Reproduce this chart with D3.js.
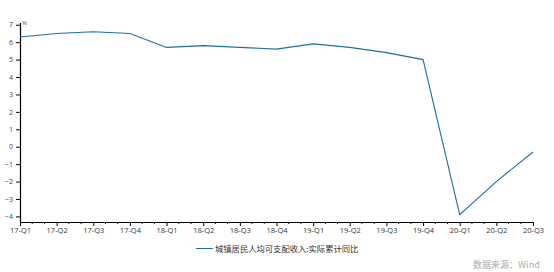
<!DOCTYPE html>
<html><head><meta charset="utf-8">
<script src="https://cdn.jsdelivr.net/npm/d3@7"></script>
<style>
html,body{margin:0;padding:0;background:#fff;}
svg{display:block;}
</style></head>
<body><svg id="c" width="554" height="272"></svg>
<script>
const categories = ["17-Q1","17-Q2","17-Q3","17-Q4","18-Q1","18-Q2","18-Q3","18-Q4","19-Q1","19-Q2","19-Q3","19-Q4","20-Q1","20-Q2","20-Q3"];
const values = [6.3,6.5,6.6,6.5,5.7,5.8,5.7,5.6,5.9,5.7,5.4,5.0,-3.9,-2.0,-0.3];
const yTicks = [-4,-3,-2,-1,0,1,2,3,4,5,6,7];
const seriesName = "城镇居民人均可支配收入:实际累计同比";
const unitLabel = "%";
const sourceText = "数据来源：Wind";

(function(){
const svg = d3.select("#c");
const mLeft = 20, mRight = 533, mTop = 23, mBottom = 222;
const x = d3.scalePoint().domain(categories).range([mLeft, mRight]);
const y = d3.scaleLinear().domain([-4.32, 7.1]).range([mBottom, mTop]);
const axisFont = "'Open Sans','DejaVu Sans',sans-serif";
const cjkFont = "'Noto Sans CJK SC','Noto Sans',sans-serif";

// y axis
const ya = svg.append("g").attr("transform", `translate(${mLeft},0)`)
  .call(d3.axisLeft(y).tickValues(yTicks).tickSize(4).tickPadding(3).tickFormat(d3.format("d")));
ya.select(".domain").attr("stroke", "#000").attr("stroke-width", 1.2).attr("d", `M0.5,${mTop}V${mBottom}`);
ya.selectAll(".tick line").attr("stroke", "#000");
ya.selectAll(".tick text").attr("font-family", axisFont).attr("font-size", 7).attr("fill", "#444");

// x axis
const xa = svg.append("g").attr("transform", `translate(0,${mBottom})`)
  .call(d3.axisBottom(x).tickSize(4).tickPadding(2));
xa.select(".domain").attr("stroke", "#000").attr("stroke-width", 1.2).attr("d", `M${mLeft},0.5H${mRight+1}`);
xa.selectAll(".tick line").attr("stroke", "#000");
xa.selectAll(".tick text").attr("font-family", axisFont).attr("font-size", 7.5).attr("fill", "#333");
// minor ticks (monthly)
const minor = [];
for (let i = 0; i < categories.length - 1; i++) {
  const a = x(categories[i]), b = x(categories[i+1]);
  minor.push(a + (b - a) / 3, a + 2 * (b - a) / 3);
}
xa.selectAll(".minor").data(minor).enter().append("line").attr("class", "minor")
  .attr("x1", d => d).attr("x2", d => d).attr("y1", 0).attr("y2", 2).attr("stroke", "#000");

svg.append("text").attr("x", mLeft + 2).attr("y", mTop + 2).text(unitLabel)
  .attr("font-family", axisFont).attr("font-size", 6).attr("fill", "#555");

// line
const line = d3.line().x((d, i) => x(categories[i])).y(d => y(d));
svg.append("path").datum(values).attr("d", line).attr("fill", "none")
  .attr("stroke", "#1f6f9e").attr("stroke-width", 1.1);

// legend
svg.append("line").attr("x1", 196).attr("x2", 213).attr("y1", 248.5).attr("y2", 248.5)
  .attr("stroke", "#1f6f9e").attr("stroke-width", 1);
svg.append("text").attr("x", 215).attr("y", 251.5).text(seriesName)
  .attr("font-family", cjkFont).attr("font-size", 8.3).attr("fill", "#333");

// source
svg.append("text").attr("x", 540).attr("y", 268).attr("text-anchor", "end").text(sourceText)
  .attr("font-family", cjkFont).attr("font-size", 9).attr("font-weight", 500).attr("fill", "#b8b8b8");
})();
</script></body></html>
